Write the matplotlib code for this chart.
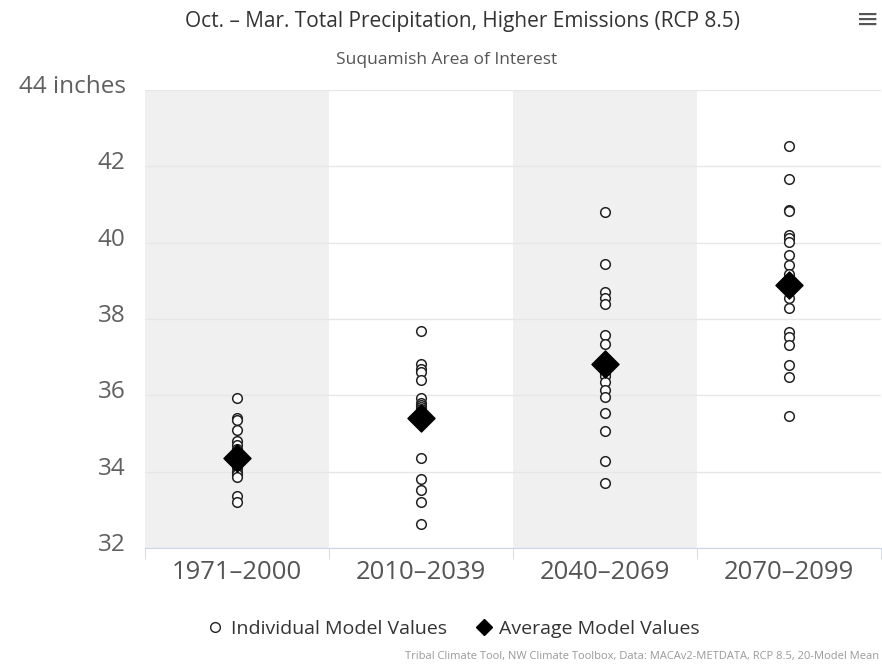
import matplotlib.pyplot as plt
import matplotlib.transforms as mtransforms
from matplotlib.lines import Line2D

plt.rcParams['font.family'] = ['Open Sans', 'DejaVu Sans']

periods = ['1971\u20132000', '2010\u20132039', '2040\u20132069', '2070\u20132099']

# individual model values (inches)
p1971 = [35.93, 35.40, 35.35, 35.10, 34.80, 34.70, 34.60, 34.50, 34.45, 34.40,
         34.35, 34.30, 34.25, 34.20, 34.10, 34.00, 33.95, 33.87, 33.35, 33.20]
p2010 = [37.69, 36.81, 36.70, 36.62, 36.40, 35.94, 35.80, 35.75, 35.70, 35.65,
         35.60, 35.55, 35.50, 35.45, 35.35, 34.35, 33.80, 33.52, 33.21, 32.63]
p2040 = [40.80, 39.45, 38.71, 38.56, 38.39, 37.58, 37.34, 36.95, 36.85, 36.75,
         36.65, 36.57, 36.50, 36.35, 36.15, 35.96, 35.53, 35.07, 34.29, 33.69]
p2070 = [42.53, 41.66, 40.85, 40.83, 40.21, 40.11, 40.02, 39.67, 39.41, 39.17,
         39.00, 38.80, 38.54, 38.30, 37.65, 37.53, 37.31, 36.79, 36.47, 35.46]
individual = [p1971, p2010, p2040, p2070]

# 20-model mean
average = [34.37, 35.40, 36.82, 38.90]

yticks = [32, 34, 36, 38, 40, 42, 44]
ylabels = ['32', '34', '36', '38', '40', '42', '44 inches']

fig = plt.figure(figsize=(8.82, 6.64), dpi=100)
ax = fig.add_axes([0.1644, 0.1747, 0.8345, 0.6898])

# alternating column bands
for i in range(len(periods)):
    if i % 2 == 0:
        ax.axvspan(i - 0.5, i + 0.5, color='#f0f0f0', zorder=0, lw=0)

for i, vals in enumerate(individual):
    ax.scatter([i] * len(vals), vals, s=48, facecolor='white', edgecolor='#222222',
               linewidths=1.1, zorder=3)
ax.scatter(range(len(average)), average, marker='D', s=190, color='black', zorder=4)

ax.set_xlim(-0.5, 3.5)
ax.set_ylim(32, 44)
ax.set_yticks(yticks)
ax.set_yticklabels(ylabels)
ax.set_xticks(range(len(periods)))
ax.set_xticklabels(periods)
ax.set_xticks([-0.5, 0.5, 1.5, 2.5, 3.5], minor=True)

ax.grid(axis='y', color='#e6e6e6', lw=1, zorder=1)
ax.set_axisbelow(True)
for s in ['top', 'right', 'left']:
    ax.spines[s].set_visible(False)
ax.spines['bottom'].set_color('#ccd6eb')

ax.tick_params(axis='y', length=0, pad=14, labelsize=17.5, labelcolor='#606060')
ax.tick_params(axis='x', which='major', length=0, pad=9, labelsize=18.5, labelcolor='#555555')
ax.tick_params(axis='x', which='minor', length=8, color='#ccd6eb')

off = mtransforms.ScaledTranslation(0, 0.06, fig.dpi_scale_trans)
for lab in ax.get_yticklabels():
    lab.set_transform(lab.get_transform() + off)

fig.text(0.524, 0.968, 'Oct. \u2013 Mar. Total Precipitation, Higher Emissions (RCP 8.5)',
         ha='center', va='center', fontsize=15, color='#333333')
fig.text(0.506, 0.9096, 'Suquamish Area of Interest', ha='center', va='center',
         fontsize=12.5, color='#555555')
fig.text(0.984, 0.968, '\u2261', ha='center', va='center', fontsize=20, color='#555555')

handles = [
    Line2D([], [], marker='o', ls='none', markersize=7, markerfacecolor='white',
           markeredgecolor='#222222', markeredgewidth=1.0, label='Individual Model Values'),
    Line2D([], [], marker='D', ls='none', markersize=8, color='black',
           label='Average Model Values'),
]
fig.legend(handles=handles, loc='center', bbox_to_anchor=(0.512, 0.053), ncol=2,
           frameon=False, fontsize=14, handletextpad=0.2, columnspacing=1.3,
           handlelength=1.2, labelcolor='#333333')

fig.text(0.997, 0.012, 'Tribal Climate Tool, NW Climate Toolbox, Data: MACAv2-METDATA, RCP 8.5, 20-Model Mean',
         ha='right', va='center', fontsize=8, color='#999999')

fig.savefig('out.png', dpi=100)
